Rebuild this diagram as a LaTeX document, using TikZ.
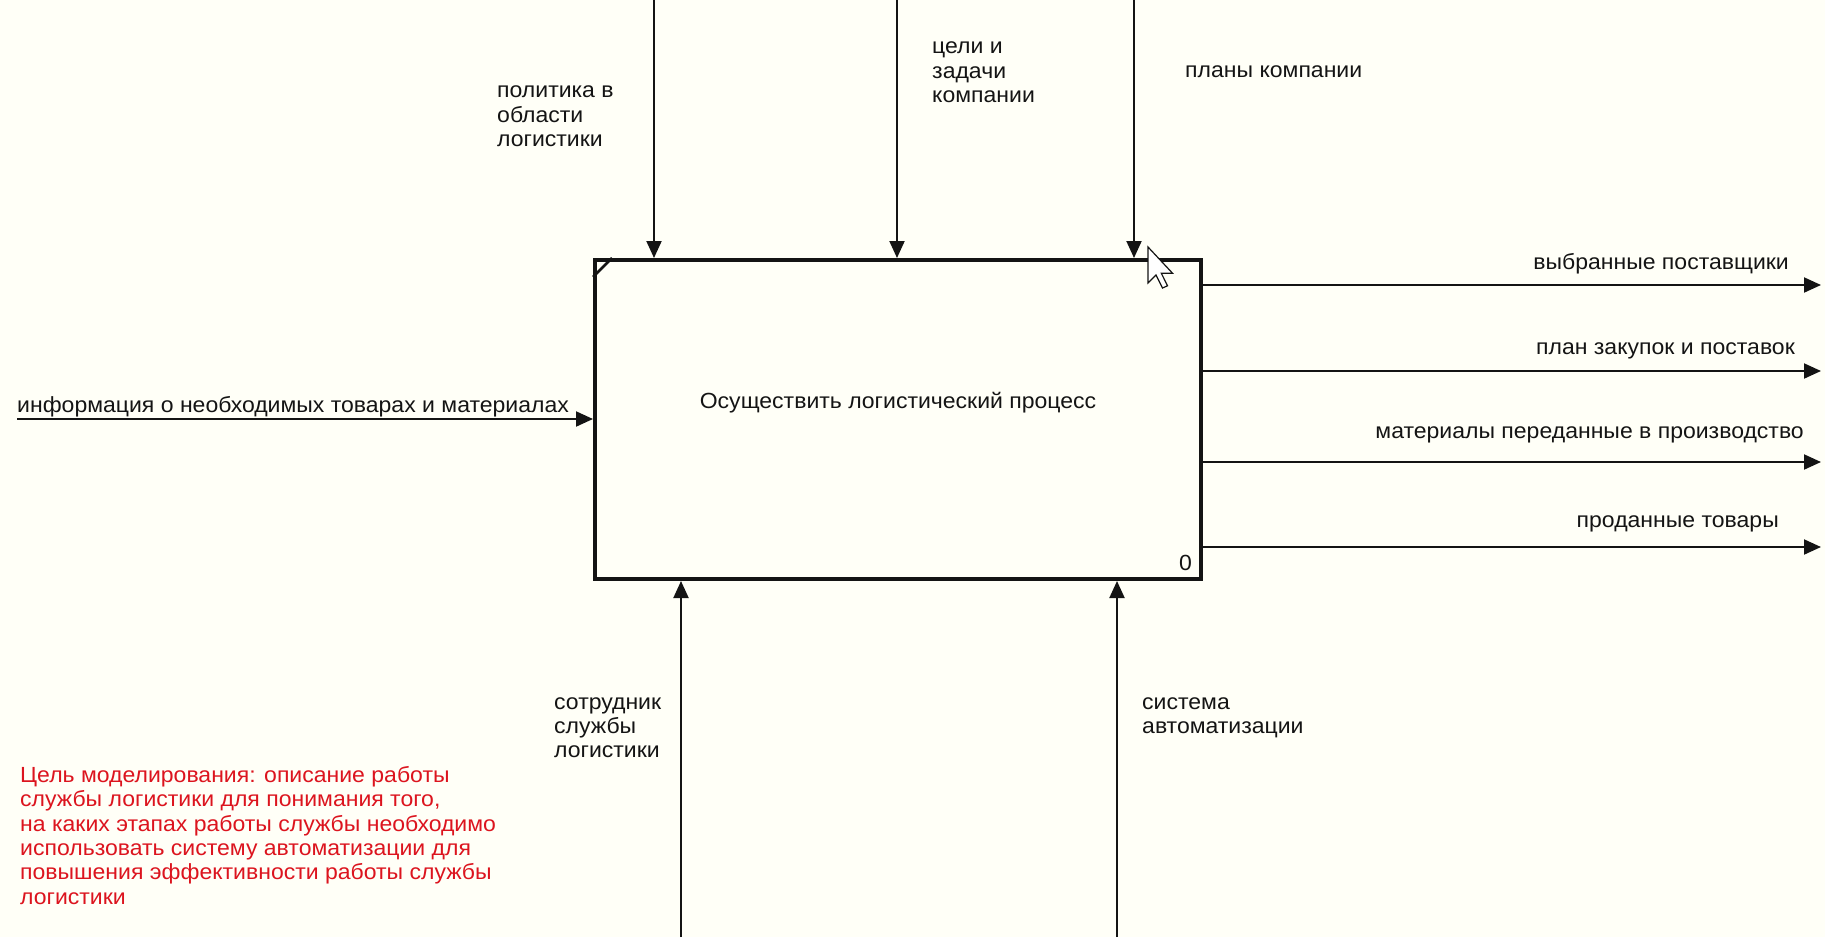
\documentclass[tikz,border=0pt]{standalone}
\usepackage{fontspec}
\setmainfont[FakeStretch=1.05]{Liberation Sans}
\usetikzlibrary{arrows.meta}
\definecolor{paper}{HTML}{FFFFF7}
\definecolor{ink}{HTML}{141414}
\definecolor{note}{RGB}{220,20,30}
\newcommand{\lblfont}{\fontsize{22}{24.5}\selectfont}
\begin{document}
\begin{tikzpicture}[x=1bp,y=-1bp,
  arr/.style={line width=2bp, draw=ink, -{Triangle[length=17bp,width=15bp]}},
  actbox/.style={draw=ink, line width=4bp, fill=paper, rectangle, inner sep=0pt,
                 minimum width=606bp, minimum height=319bp, anchor=north west},
  lbl/.style={inner sep=0pt, align=left, font=\lblfont, text=ink, anchor=north west,
              execute at begin node=\strut},
  rlbl/.style={lbl, anchor=north east, align=right},
  notetext/.style={lbl, text=note}]
  % page
  \fill[paper] (0,0) rectangle (1825,937);
  \useasboundingbox (0,0) rectangle (1825,937);

  % activity box
  \node[actbox] (proc) at (593,258) {};
  \draw[ink, line width=2.5bp] ([yshift=-19bp]proc.north west) -- ([xshift=19bp]proc.north west);
  \node[lbl, anchor=north] (proctitle) at (898,391) {Осуществить логистический процесс};
  \node[inner sep=0pt, font=\lblfont, text=ink, anchor=base east] (procnum) at (1192,570) {0};

  % controls
  \coordinate (c1) at (654,0);
  \coordinate (c2) at (897,0);
  \coordinate (c3) at (1134,0);
  \draw[arr] (c1) -- (c1 |- proc.north);
  \draw[arr] (c2) -- (c2 |- proc.north);
  \draw[arr] (c3) -- (c3 |- proc.north);
  \node[lbl] (c1l) at (497,86) {политика в\\области\\логистики};
  \node[lbl] (c2l) at (932,42) {цели и\\задачи\\компании};
  \node[lbl] (c3l) at (1185,60) {планы компании};

  % input
  \coordinate (i1) at (17,419);
  \draw[arr] (i1) -- (i1 -| proc.west);
  \node[lbl] (i1l) at (17,395) {информация о необходимых товарах и материалах};

  % outputs
  \coordinate (o1) at (1821,285);
  \coordinate (o2) at (1821,371);
  \coordinate (o3) at (1821,462);
  \coordinate (o4) at (1821,547);
  \draw[arr] (o1 -| proc.east) -- (o1);
  \draw[arr] (o2 -| proc.east) -- (o2);
  \draw[arr] (o3 -| proc.east) -- (o3);
  \draw[arr] (o4 -| proc.east) -- (o4);
  \node[rlbl] (o1l) at (1789,252) {выбранные поставщики};
  \node[rlbl] (o2l) at (1795,337) {план закупок и поставок};
  \node[rlbl] (o3l) at (1804,421) {материалы переданные в производство};
  \node[rlbl] (o4l) at (1779,510) {проданные товары};

  % mechanisms
  \coordinate (m1) at (681,937);
  \coordinate (m2) at (1117,937);
  \draw[arr] (m1) -- (m1 |- proc.south);
  \draw[arr] (m2) -- (m2 |- proc.south);
  \node[lbl] (m1l) at (554,697) {сотрудник\\службы\\логистики};
  \node[lbl] (m2l) at (1142,697) {система\\автоматизации};

  % modelling purpose
  \node[notetext] (purpose) at (20,766) {Цель моделирования: описание работы\\службы логистики для понимания того,\\на каких этапах работы службы необходимо\\использовать систему автоматизации для\\повышения эффективности работы службы\\логистики};

  % mouse pointer
  \draw[ink, line width=1.2bp, fill=white, line join=miter]
    (1148,247) -- ++(0,36) -- ++(8,-8) -- ++(6.5,13) -- ++(5,-2.2) -- ++(-6.2,-12.6) -- ++(11.2,0) -- cycle;
\end{tikzpicture}
\end{document}
